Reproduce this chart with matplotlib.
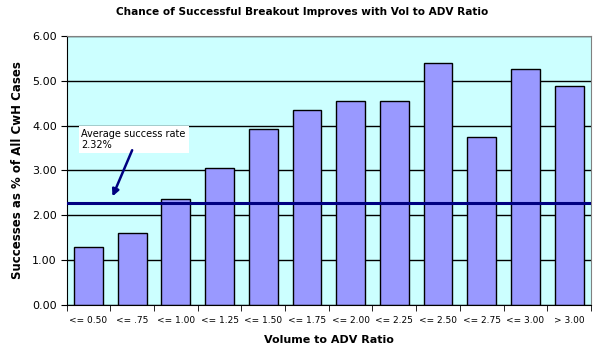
import numpy as np
import matplotlib
matplotlib.use('Agg')
import matplotlib.pyplot as plt

# Data
categories = ['<= 0.50', '<= .75', '<= 1.00', '<= 1.25', '<= 1.50', '<= 1.75',
              '<= 2.00', '<= 2.25', '<= 2.50', '<= 2.75', '<= 3.00', '> 3.00']
success_pct = [1.30, 1.60, 2.37, 3.05, 3.93, 4.35, 4.55, 4.55, 5.40, 3.75, 5.25, 4.88]
avg_line = 2.27
y_ticks = [0, 1, 2, 3, 4, 5, 6]

fig = plt.figure(figsize=(6.0, 3.55), dpi=100)
ax = fig.add_axes([0.111, 0.141, 0.874, 0.758])
ax.set_facecolor('#CCFFFF')

x = np.arange(len(categories))
ax.set_axisbelow(True)
ax.yaxis.grid(True, color='black', linewidth=1.0)
ax.bar(x, success_pct, width=0.66, color='#9999FF', edgecolor='black', linewidth=1.0, zorder=2)
ax.axhline(avg_line, color='#000080', linewidth=2.2, zorder=3)

ax.set_xlim(-0.5, len(categories) - 0.5)
ax.set_ylim(0, 6)
ax.set_yticks(y_ticks)
ax.set_yticklabels(['%.2f' % v for v in y_ticks], fontsize=8)
ax.set_xticks(x)
ax.set_xticklabels(categories, fontsize=6.5)
ax.set_xticks(np.arange(-0.5, len(categories)), minor=True)
ax.tick_params(axis='x', which='major', length=0, pad=8)
ax.tick_params(axis='x', which='minor', length=4, direction='out', color='black')
ax.tick_params(axis='y', length=4, direction='out', pad=3)

for side in ['top', 'right']:
    ax.spines[side].set_color('#808080')
for side in ['left', 'bottom']:
    ax.spines[side].set_color('black')

# annotation box and arrow
ax.text(-0.16, 3.92, 'Average success rate\n2.32%', fontsize=7, ha='left', va='top',
        linespacing=1.1, zorder=4,
        bbox=dict(boxstyle='square,pad=0.3', facecolor='white', edgecolor='none'))
ax.annotate('', xy=(0.55, 2.42), xytext=(1.0, 3.45),
            arrowprops=dict(arrowstyle='-|>', color='#000080', lw=1.8,
                            shrinkA=0, shrinkB=0, mutation_scale=10),
            zorder=5)

fig.text(0.503, 0.965, 'Chance of Successful Breakout Improves with Vol to ADV Ratio',
         fontsize=7.6, fontweight='bold', ha='center', va='center')
ax.set_xlabel('Volume to ADV Ratio', fontsize=8, fontweight='bold', labelpad=7)
ax.set_ylabel('Successes as % of All CwH Cases', fontsize=8.5, fontweight='bold', labelpad=6)

fig.savefig('out.png', dpi=100, facecolor='white')
